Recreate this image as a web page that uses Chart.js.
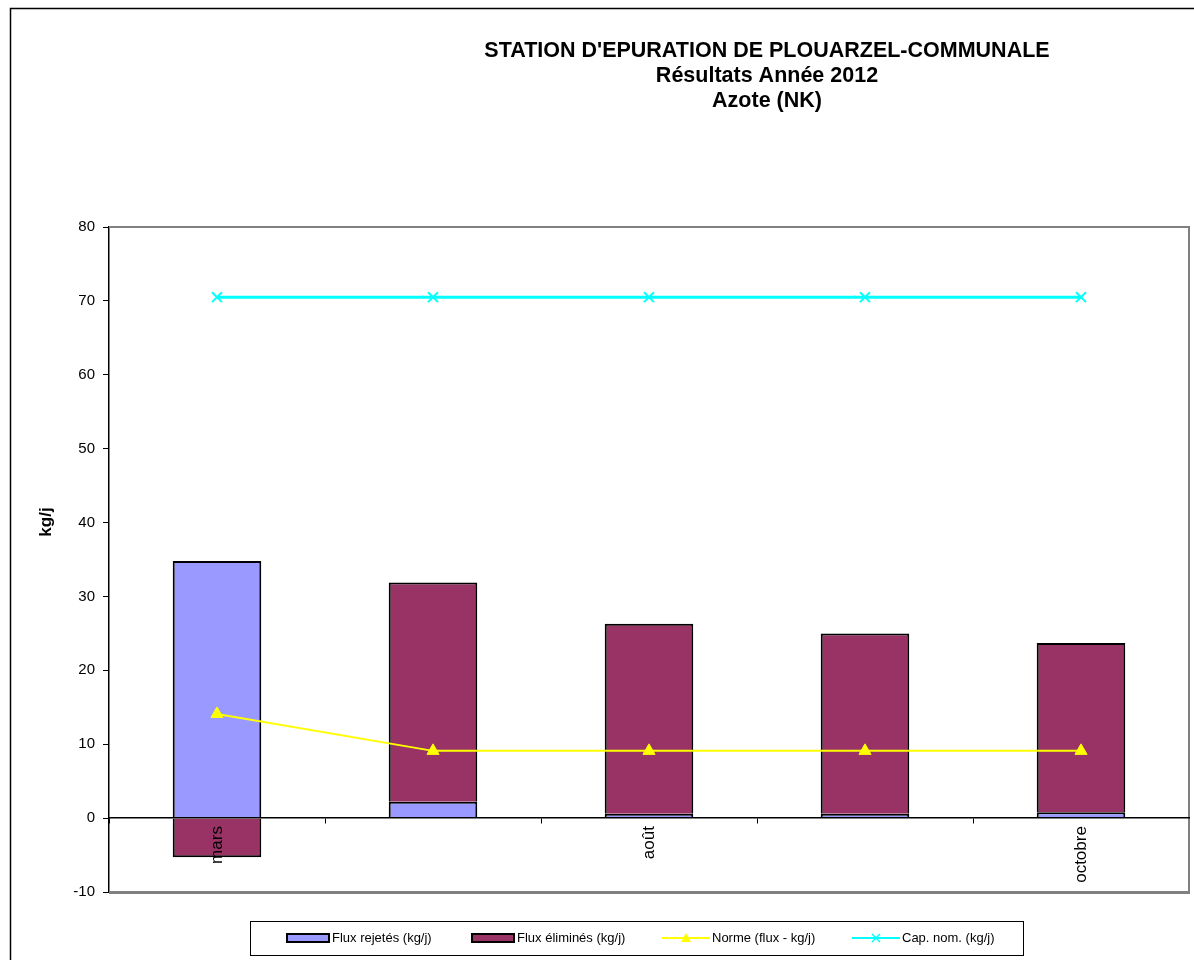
<!DOCTYPE html>
<html lang="fr">
<head>
<meta charset="utf-8">
<title>Azote (NK) 2012</title>
<script src="https://cdn.jsdelivr.net/npm/chart.js@4.4.0/dist/chart.umd.min.js"></script>
<style>
  html, body { margin: 0; padding: 0; background: #fff; }
  canvas { display: block; }
</style>
</head>
<body>
<canvas id="azoteChart" width="1194" height="960"></canvas>
<script>
// Mois de prélèvement (Excel n'affiche qu'une étiquette sur deux)
const months = ['mars', '', 'août', '', 'octobre'];
// Flux en kg/j
const fluxRejetes = [34.8, 2.2, 0.6, 0.6, 0.8];
const fluxElimines = [-5.3, 29.7, 25.7, 24.4, 22.9];
const norme = [14.1, 9.1, 9.1, 9.1, 9.1];
const capNominale = [70.5, 70.5, 70.5, 70.5, 70.5];

const titleLines = [
    "STATION D'EPURATION DE PLOUARZEL-COMMUNALE",
    'Résultats Année 2012',
    'Azote (NK)'
];
const yAxisTitle = 'kg/j';
const yMin = -10;
const yMax = 80;
const yStep = 10;

const FONT = '"Liberation Sans", Arial, sans-serif';

// Cadre extérieur, cadre gris de la zone de tracé, titres et légende encadrée
const decorPlugin = {
    id: 'decor',
    beforeDatasetsDraw(chart) {
        const ctx = chart.ctx;
        const a = chart.chartArea;
        ctx.save();
        ctx.strokeStyle = '#808080';
        ctx.lineWidth = 2;
        ctx.beginPath();
        ctx.moveTo(a.left, a.top);
        ctx.lineTo(a.right, a.top);
        ctx.lineTo(a.right, a.bottom);
        ctx.stroke();
        ctx.lineWidth = 3;
        ctx.beginPath();
        ctx.moveTo(a.left, a.bottom + 0.5);
        ctx.lineTo(a.right + 1, a.bottom + 0.5);
        ctx.stroke();
        ctx.restore();
    },
    afterDraw(chart) {
        const ctx = chart.ctx;
        ctx.save();

        // bordure du graphique
        ctx.strokeStyle = '#000';
        ctx.lineWidth = 1.5;
        ctx.beginPath();
        ctx.moveTo(10.5, 960);
        ctx.lineTo(10.5, 8.5);
        ctx.lineTo(1194, 8.5);
        ctx.stroke();

        // titre
        ctx.fillStyle = '#000';
        ctx.textAlign = 'center';
        ctx.textBaseline = 'middle';
        ctx.font = 'bold 21.5px ' + FONT;
        titleLines.forEach((line, i) => ctx.fillText(line, 767, 51 + i * 25));

        // titre de l'axe des ordonnées
        ctx.save();
        ctx.translate(46, 522);
        ctx.rotate(-Math.PI / 2);
        ctx.font = 'bold 17px ' + FONT;
        ctx.fillText(yAxisTitle, 0, 0);
        ctx.restore();

        // légende
        ctx.strokeStyle = '#000';
        ctx.lineWidth = 1;
        ctx.strokeRect(250.5, 921.5, 773, 34);
        const itemX = [287, 472, 662, 852];
        const cy = 938;
        ctx.font = '13px ' + FONT;
        ctx.textAlign = 'left';
        chart.data.datasets.forEach((ds, i) => {
            const x = itemX[i];
            if (ds.type === 'bar') {
                ctx.fillStyle = ds.backgroundColor;
                ctx.fillRect(x, cy - 4, 42, 8);
                ctx.lineWidth = 2;
                ctx.strokeStyle = '#000';
                ctx.strokeRect(x, cy - 4, 42, 8);
                ctx.fillStyle = '#000';
                ctx.fillText(ds.label, x + 45, cy);
            } else {
                ctx.strokeStyle = ds.borderColor;
                ctx.lineWidth = 2;
                ctx.beginPath();
                ctx.moveTo(x, cy);
                ctx.lineTo(x + 48, cy);
                ctx.stroke();
                const mx = x + 24;
                if (ds.pointStyle === 'triangle') {
                    ctx.fillStyle = ds.borderColor;
                    ctx.beginPath();
                    ctx.moveTo(mx, cy - 5);
                    ctx.lineTo(mx + 5, cy + 4);
                    ctx.lineTo(mx - 5, cy + 4);
                    ctx.closePath();
                    ctx.fill();
                } else {
                    ctx.lineWidth = 1.5;
                    ctx.beginPath();
                    ctx.moveTo(mx - 4, cy - 4);
                    ctx.lineTo(mx + 4, cy + 4);
                    ctx.moveTo(mx + 4, cy - 4);
                    ctx.lineTo(mx - 4, cy + 4);
                    ctx.stroke();
                }
                ctx.fillStyle = '#000';
                ctx.fillText(ds.label, x + 50, cy);
            }
        });
        ctx.restore();
    }
};

const ctx = document.getElementById('azoteChart').getContext('2d');

new Chart(ctx, {
    data: {
        labels: months,
        datasets: [
            {
                type: 'bar',
                label: 'Flux rejetés (kg/j)',
                data: fluxRejetes,
                backgroundColor: '#9999FF',
                borderColor: '#000000',
                borderWidth: 2,
                borderSkipped: 'start',
                stack: 'flux',
                barPercentage: 0.41,
                categoryPercentage: 1,
                order: 2
            },
            {
                type: 'bar',
                label: 'Flux éliminés (kg/j)',
                data: fluxElimines,
                backgroundColor: '#993366',
                borderColor: '#000000',
                borderWidth: 2,
                borderSkipped: 'start',
                stack: 'flux',
                barPercentage: 0.41,
                categoryPercentage: 1,
                order: 2
            },
            {
                type: 'line',
                label: 'Norme (flux - kg/j)',
                data: norme,
                borderColor: '#FFFF00',
                backgroundColor: '#FFFF00',
                borderWidth: 2,
                pointStyle: 'triangle',
                pointRadius: 7,
                pointBorderWidth: 1,
                tension: 0,
                stack: 'norme',
                order: 1
            },
            {
                type: 'line',
                label: 'Cap. nom. (kg/j)',
                data: capNominale,
                borderColor: '#00FFFF',
                backgroundColor: '#00FFFF',
                borderWidth: 3,
                pointStyle: 'crossRot',
                pointRadius: 7,
                pointBorderWidth: 2,
                tension: 0,
                stack: 'cap',
                order: 0
            }
        ]
    },
    options: {
        responsive: false,
        animation: false,
        layout: {
            autoPadding: false,
            padding: { left: 0, right: 5, top: 227, bottom: 68 }
        },
        plugins: {
            legend: { display: false },
            title: { display: false },
            tooltip: { enabled: false }
        },
        scales: {
            x: {
                stacked: true,
                position: { y: 0 },
                offset: true,
                afterFit(scale) {
                    scale.paddingLeft = 0;
                    scale.paddingRight = 0;
                },
                grid: {
                    offset: true,
                    drawOnChartArea: false,
                    drawTicks: true,
                    tickLength: 5,
                    color: '#000'
                },
                border: { display: true, color: '#000', width: 1.5, z: 1 },
                ticks: {
                    autoSkip: false,
                    minRotation: 90,
                    maxRotation: 90,
                    padding: 3,
                    z: 1,
                    color: '#000',
                    font: { family: FONT, size: 17 }
                }
            },
            y: {
                stacked: true,
                min: yMin,
                max: yMax,
                afterFit(scale) { scale.width = 109; },
                grid: {
                    drawOnChartArea: false,
                    drawTicks: true,
                    tickLength: 6,
                    color: '#000'
                },
                border: { display: true, color: '#000', width: 1.5 },
                ticks: {
                    stepSize: yStep,
                    padding: 8,
                    color: '#000',
                    font: { family: FONT, size: 15 }
                }
            }
        }
    },
    plugins: [decorPlugin]
});
</script>
</body>
</html>
